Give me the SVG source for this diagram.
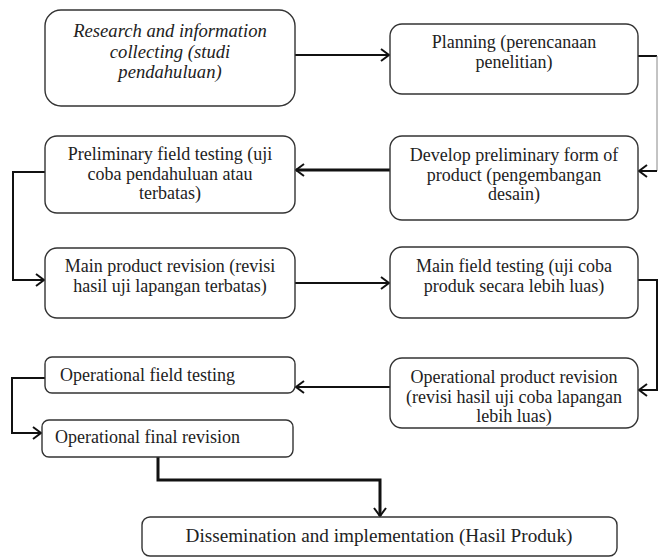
<svg xmlns="http://www.w3.org/2000/svg" width="659" height="558" viewBox="0 0 659 558">
<style>
.box{fill:#fff;stroke:#333;stroke-width:1.4}
.t{font-family:'Liberation Serif','Times New Roman',serif;font-size:18px;fill:#222}
.c{text-anchor:middle}
.it{font-style:italic;font-size:18.6px}
.big{font-size:19.2px}
.con{fill:none;stroke:#111;stroke-width:2}
.thick{stroke-width:3}
.thin{stroke:#888;stroke-width:1}
</style>
<defs>
<marker id="ah" markerUnits="userSpaceOnUse" markerWidth="12" markerHeight="14" refX="10" refY="7" orient="auto">
<path d="M2,1 L10,7 L2,13" fill="none" stroke="#111" stroke-width="2"/>
</marker>
</defs>
<rect width="659" height="558" fill="#fff"/>
<g id="connectors">
<path class="con" d="M295,55 H389" marker-end="url(#ah)"/>
<path class="con" d="M638,56 H657"/>
<path class="con thin" d="M657,56 V171"/>
<path class="con" d="M657,171 H639" marker-end="url(#ah)"/>
<path class="con thick" d="M390,170 H296" marker-end="url(#ah)"/>
<path class="con" d="M45,172 H13 V280 H44" marker-end="url(#ah)"/>
<path class="con" d="M295,283 H389" marker-end="url(#ah)"/>
<path class="con" d="M638,280 H657 V390 H639" marker-end="url(#ah)"/>
<path class="con" d="M390,387 H296" marker-end="url(#ah)"/>
<path class="con" d="M45,378 H12 V433 H41" marker-end="url(#ah)"/>
<path class="con thick" d="M158,457 V480 H380 V516" marker-end="url(#ah)"/>
</g>
<g id="n1"><rect class="box" x="45" y="10" width="250" height="96" rx="16"/>
<text class="t c it" x="170" y="37">Research and information</text>
<text class="t c it" x="170" y="58">collecting (studi</text>
<text class="t c it" x="170" y="78">pendahuluan)</text></g>
<g id="n2"><rect class="box" x="390" y="24" width="248" height="70" rx="12"/>
<text class="t c" x="514" y="48">Planning (perencanaan</text>
<text class="t c" x="514" y="68">penelitian)</text></g>
<g id="n3"><rect class="box" x="390" y="136" width="248" height="84" rx="12"/>
<text class="t c" x="514" y="161">Develop preliminary form of</text>
<text class="t c" x="514" y="181">product (pengembangan</text>
<text class="t c" x="514" y="200">desain)</text></g>
<g id="n4"><rect class="box" x="45" y="136" width="250" height="77" rx="12"/>
<text class="t c" x="170" y="160">Preliminary field testing (uji</text>
<text class="t c" x="170" y="180">coba pendahuluan atau</text>
<text class="t c" x="170" y="199">terbatas)</text></g>
<g id="n5"><rect class="box" x="45" y="248" width="250" height="70" rx="12"/>
<text class="t c" x="170" y="272">Main product revision (revisi</text>
<text class="t c" x="170" y="292">hasil uji lapangan terbatas)</text></g>
<g id="n6"><rect class="box" x="390" y="247" width="248" height="71" rx="12"/>
<text class="t c" x="514" y="272">Main field testing (uji coba</text>
<text class="t c" x="514" y="292">produk secara lebih luas)</text></g>
<g id="n7"><rect class="box" x="390" y="358" width="248" height="70" rx="12"/>
<text class="t c" x="514" y="383">Operational product revision</text>
<text class="t c" x="514" y="403">(revisi hasil uji coba lapangan</text>
<text class="t c" x="514" y="422">lebih luas)</text></g>
<g id="n8"><rect class="box" x="45" y="357" width="250" height="36" rx="7"/>
<text class="t" x="60" y="381">Operational field testing</text></g>
<g id="n9"><rect class="box" x="42" y="420" width="251" height="37" rx="7"/>
<text class="t" x="55" y="443">Operational final revision</text></g>
<g id="n10"><rect class="box" x="142" y="517" width="475" height="39" rx="8"/>
<text class="t c big" x="379" y="542">Dissemination and implementation (Hasil Produk)</text></g>
</svg>
